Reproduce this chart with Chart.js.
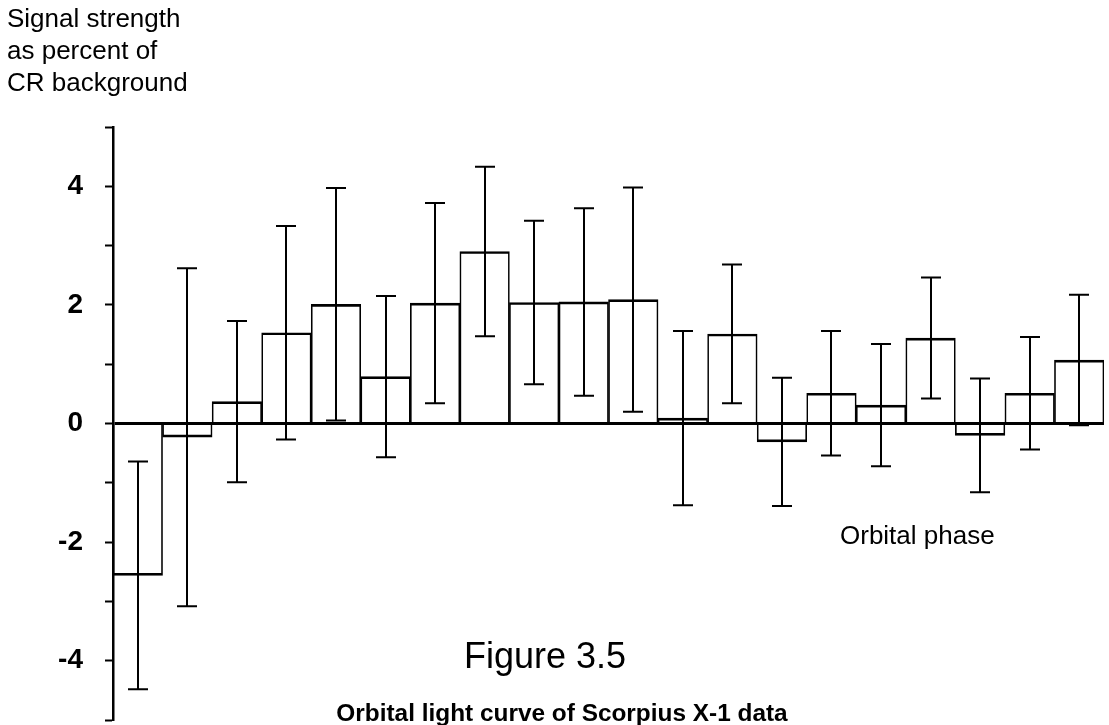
<!DOCTYPE html>
<html><head><meta charset="utf-8">
<script src="https://cdn.jsdelivr.net/npm/chart.js@4/dist/chart.umd.min.js"></script>
<style>
html,body{margin:0;padding:0;background:#fff;}
#wrap{position:relative;width:1109px;height:725px;overflow:hidden;}
#c{position:absolute;left:0;top:0;}
.t{position:absolute;font-family:"Liberation Sans",Arial,Helvetica,sans-serif;color:#000;white-space:nowrap;}
</style></head><body>
<div id="wrap">
<canvas id="c" width="1109" height="725"></canvas>
<div class="t" style="left:7px;top:2px;font-size:26px;line-height:32px;">Signal strength<br>as percent of<br>CR background</div>
<div class="t" style="left:840px;top:522px;font-size:26px;line-height:26px;">Orbital phase</div>
<div class="t" style="left:545px;top:638px;font-size:36px;line-height:36px;transform:translateX(-50%);">Figure 3.5</div>
<div class="t" style="left:562px;top:701px;font-size:24.4px;line-height:24.4px;font-weight:bold;transform:translateX(-50%);">Orbital light curve of Scorpius X-1 data</div>
</div>
<script>
// Phase bins (20 bins across one orbital period)
const categories = ['1','2','3','4','5','6','7','8','9','10','11','12','13','14','15','16','17','18','19','20'];
// Signal strength (% of CR background)
const values = [-2.56, -0.23, 0.37, 1.53, 2.01, 0.79, 2.03, 2.90, 2.04, 2.05, 2.09, 0.09, 1.51, -0.31, 0.51, 0.31, 1.44, -0.20, 0.51, 1.07];
// One-sigma error (half length of error bar)
const errors = [1.92, 2.85, 1.36, 1.80, 1.96, 1.36, 1.69, 1.43, 1.38, 1.58, 1.89, 1.47, 1.17, 1.08, 1.05, 1.03, 1.02, 0.96, 0.95, 1.10];
// Y axis tick labels shown
const yTickLabels = [-4, -2, 0, 2, 4];

const CAP_W = 20;
const errorBars = {
  id: 'errorBars',
  afterDatasetsDraw(chart) {
    const {ctx, scales: {x, y}} = chart;
    ctx.save();
    ctx.strokeStyle = '#000';
    ctx.lineWidth = 2;
    values.forEach((v, i) => {
      const px = Math.round(x.getPixelForValue(i));
      const yt = y.getPixelForValue(v + errors[i]);
      const yb = y.getPixelForValue(v - errors[i]);
      ctx.beginPath();
      ctx.moveTo(px, yt); ctx.lineTo(px, yb);
      ctx.moveTo(px - CAP_W / 2, yt); ctx.lineTo(px + CAP_W / 2, yt);
      ctx.moveTo(px - CAP_W / 2, yb); ctx.lineTo(px + CAP_W / 2, yb);
      ctx.stroke();
    });
    ctx.restore();
  }
};

new Chart(document.getElementById('c'), {
  type: 'bar',
  data: {
    labels: categories,
    datasets: [{
      data: values,
      backgroundColor: 'rgba(0,0,0,0)',
      borderColor: '#000',
      borderWidth: {top: 2, bottom: 2, left: 1, right: 1},
      barPercentage: 1,
      categoryPercentage: 1
    }]
  },
  options: {
    responsive: false,
    maintainAspectRatio: false,
    animation: false,
    devicePixelRatio: 1,
    layout: {padding: {top: 127, bottom: 5, left: 0, right: 5}},
    plugins: {legend: {display: false}, tooltip: {enabled: false}, title: {display: false}},
    scales: {
      x: {type: 'category', display: false, offset: true},
      y: {
        min: -5, max: 5,
        afterFit(s) { s.width = 113; s.paddingTop = 0; s.paddingBottom = 0; },
        ticks: {
          stepSize: 1, autoSkip: false, color: '#000', padding: 22,
          font: {family: '"Liberation Sans", Arial, sans-serif', size: 28, weight: 'bold'},
          callback: (v) => yTickLabels.includes(v) ? String(v) : ''
        },
        grid: {
          drawOnChartArea: true,
          color: (c) => (c.tick && c.tick.value === 0) ? '#000' : 'rgba(0,0,0,0)',
          lineWidth: (c) => (c.tick && c.tick.value === 0) ? 3 : 1,
          tickColor: '#000', tickLength: 8, tickWidth: 2
        },
        border: {display: true, color: '#000', width: 2.5}
      }
    }
  },
  plugins: [errorBars]
});
</script>
</body></html>
